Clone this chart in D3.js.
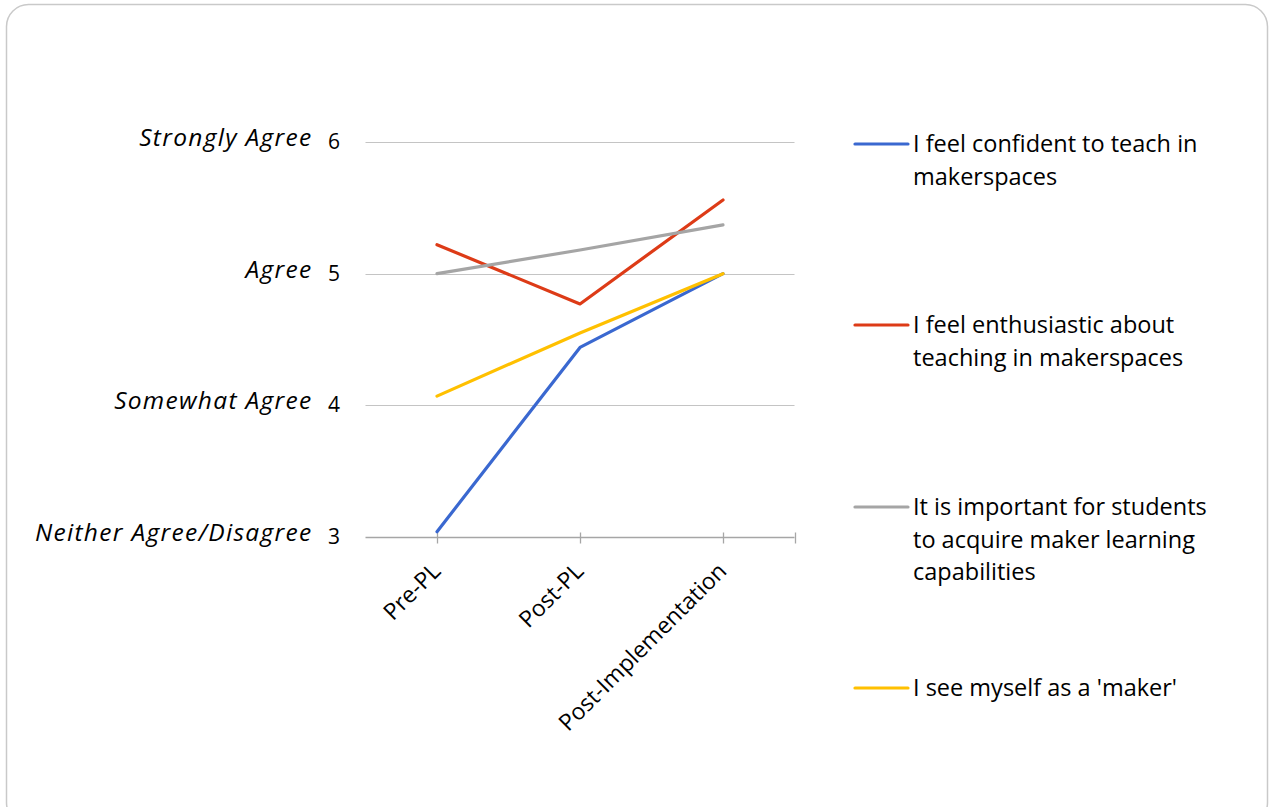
<!DOCTYPE html>
<html>
<head>
<meta charset="utf-8">
<script src="https://cdn.jsdelivr.net/npm/d3@7"></script>
<style>
  html, body { margin: 0; padding: 0; background: #ffffff; }
  svg { display: block; }
</style>
</head>
<body>
<svg id="chart" width="1270" height="807"></svg>
<script>
// Survey stages along the x axis
const stages = ["Pre-PL", "Post-PL", "Post-Implementation"];

// Mean agreement for each statement at each stage
const confident    = [3.04, 4.44, 5.00];
const enthusiastic = [5.22, 4.77, 5.56];
const important    = [5.00, 5.18, 5.37];
const maker        = [4.07, 4.55, 5.00];

// Likert scale ticks and their wording
const scaleTicks  = [3, 4, 5, 6];
const scaleLabels = ["Neither Agree/Disagree", "Somewhat Agree", "Agree", "Strongly Agree"];

// Legend wording, pre-wrapped as in the legend box
const seriesNames = [
  ["I feel confident to teach in", "makerspaces"],
  ["I feel enthusiastic about", "teaching in makerspaces"],
  ["It is important for students", "to acquire maker learning", "capabilities"],
  ["I see myself as a 'maker'"]
];
const seriesValues = [confident, enthusiastic, important, maker];
const seriesColors = ["#3A68D0", "#DD3B17", "#A5A5A5", "#FFC000"];

const FONT = "'Open Sans', Lato, sans-serif";
const svg = d3.select("#chart");

// Rounded frame around the whole chart
svg.append("rect")
  .attr("x", 6.5).attr("y", 4.5)
  .attr("width", 1261).attr("height", 820)
  .attr("rx", 22).attr("ry", 22)
  .attr("fill", "#fff")
  .attr("stroke", "#c9c9c9")
  .attr("stroke-width", 1.5);

const x = d3.scalePoint().domain(stages).range([365.5, 794.5]).padding(0.5);
const y = d3.scaleLinear().domain([3, 6]).range([537, 142]);

// Horizontal gridlines
svg.append("g")
  .selectAll("line")
  .data(scaleTicks.filter(t => t !== 3))
  .join("line")
  .attr("x1", 365.5).attr("x2", 794.5)
  .attr("y1", d => Math.round(y(d)) + 0.5)
  .attr("y2", d => Math.round(y(d)) + 0.5)
  .attr("stroke", "#c4c4c4")
  .attr("stroke-width", 1.2);

// Category axis line with crossing tick marks
const axisY = Math.round(y(3)) + 0.5;
const xAxis = svg.append("g");
xAxis.append("line")
  .attr("x1", 365.5).attr("x2", 794.5)
  .attr("y1", axisY).attr("y2", axisY)
  .attr("stroke", "#a6a6a6").attr("stroke-width", 1.3);
xAxis.selectAll("line.tick")
  .data(stages.map(s => x(s)).concat([794.5]))
  .join("line")
  .attr("class", "tick")
  .attr("x1", d => Math.round(d) + 0.5).attr("x2", d => Math.round(d) + 0.5)
  .attr("y1", axisY - 5).attr("y2", axisY + 6)
  .attr("stroke", "#a6a6a6").attr("stroke-width", 1.3);

// Rotated category labels
xAxis.selectAll("text")
  .data(stages)
  .join("text")
  .attr("transform", d => `translate(${x(d) + 5},${axisY + 35}) rotate(-45)`)
  .attr("text-anchor", "end")
  .attr("font-family", FONT)
  .attr("font-size", 23)
  .attr("fill", "#000")
  .text(d => d);

// Y axis: numeric ticks and italic wording
const yAxis = svg.append("g");
yAxis.selectAll("text.num")
  .data(scaleTicks)
  .join("text")
  .attr("class", "num")
  .attr("x", 334).attr("y", d => y(d) + 7)
  .attr("text-anchor", "middle")
  .attr("font-family", FONT)
  .attr("font-size", 21)
  .attr("fill", "#000")
  .text(d => d);
yAxis.selectAll("text.word")
  .data(scaleTicks)
  .join("text")
  .attr("class", "word")
  .attr("x", 312.5).attr("y", d => y(d) + 4)
  .attr("text-anchor", "end")
  .attr("font-family", FONT)
  .attr("font-style", "italic")
  .attr("font-size", 24.5)
  .attr("letter-spacing", 1.3)
  .attr("fill", "#000")
  .text((d, i) => scaleLabels[i]);

// Series lines
const line = d3.line().x((d, i) => x(stages[i])).y(d => y(d));
svg.append("g")
  .selectAll("path")
  .data(seriesValues)
  .join("path")
  .attr("d", d => line(d))
  .attr("fill", "none")
  .attr("stroke", (d, i) => seriesColors[i])
  .attr("stroke-width", 3.2)
  .attr("stroke-linejoin", "round")
  .attr("stroke-linecap", "round");

// Legend
const legendTop = [144, 325, 507, 688];
const legend = svg.append("g");
seriesNames.forEach((lines, i) => {
  const g = legend.append("g");
  g.append("line")
    .attr("x1", 855).attr("x2", 908)
    .attr("y1", legendTop[i]).attr("y2", legendTop[i])
    .attr("stroke", seriesColors[i])
    .attr("stroke-width", 3.2)
    .attr("stroke-linecap", "round");
  g.selectAll("text")
    .data(lines)
    .join("text")
    .attr("x", 913)
    .attr("y", (d, j) => legendTop[i] + 8 + j * 32.5)
    .attr("font-family", FONT)
    .attr("font-size", 23.5)
    .attr("fill", "#000")
    .text(d => d);
});
</script>
</body>
</html>
